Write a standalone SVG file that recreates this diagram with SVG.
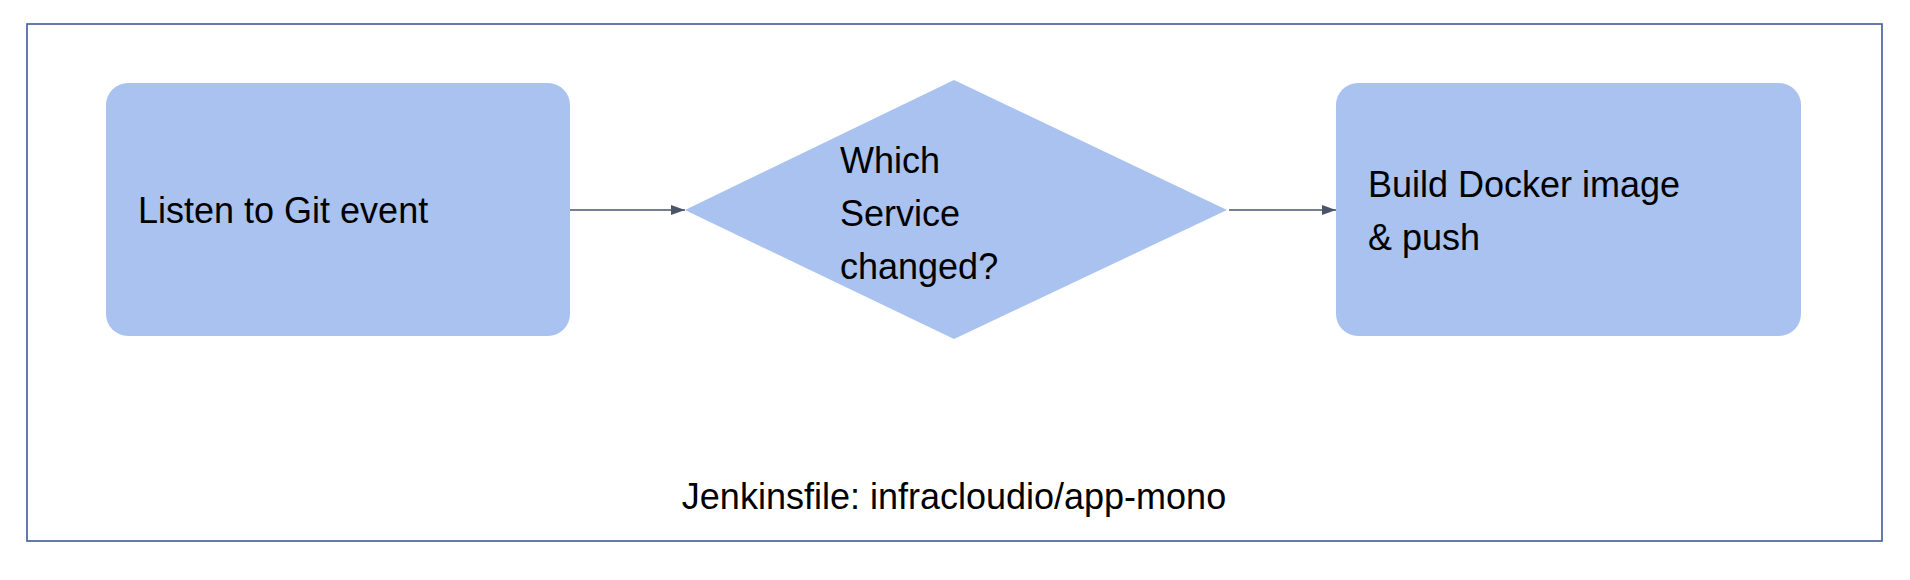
<svg xmlns="http://www.w3.org/2000/svg" width="1910" height="580" viewBox="0 0 1910 580">
<style>
.n{fill:#a9c2ef;stroke:none}
.t{font-family:"Liberation Sans",Arial,sans-serif;font-size:36px;fill:#000}
.c{stroke:#4a5568;stroke-width:1.6;fill:none}
</style>
<defs><marker id="a" markerWidth="14" markerHeight="10" refX="14" refY="5" orient="auto" markerUnits="userSpaceOnUse"><path d="M0,0L14,5L0,10Z" fill="#4a5568"/></marker></defs>
<rect width="1910" height="580" fill="#fff"/>
<g id="frame"><rect x="27" y="24" width="1855" height="517" fill="none" stroke="#3c5a99" stroke-width="1.6"/>
<text class="t" x="954" y="509" text-anchor="middle">Jenkinsfile: infracloudio/app-mono</text></g>
<g id="listen"><rect class="n" x="106" y="83" width="464" height="253" rx="22"/><text class="t" x="138" y="223">Listen to Git event</text></g>
<g id="which"><polygon class="n" points="954,80 1227,210 954,339 685,210"/><text class="t" x="840" y="173">Which</text><text class="t" x="840" y="226">Service</text><text class="t" x="840" y="279">changed?</text></g>
<g id="build"><rect class="n" x="1336" y="83" width="465" height="253" rx="22"/><text class="t" x="1368" y="197">Build Docker image</text><text class="t" x="1368" y="250">&amp; push</text></g>
<g id="connectors"><line class="c" x1="570" y1="210" x2="685" y2="210" marker-end="url(#a)"/><line class="c" x1="1229" y1="210" x2="1336" y2="210" marker-end="url(#a)"/></g>
</svg>
